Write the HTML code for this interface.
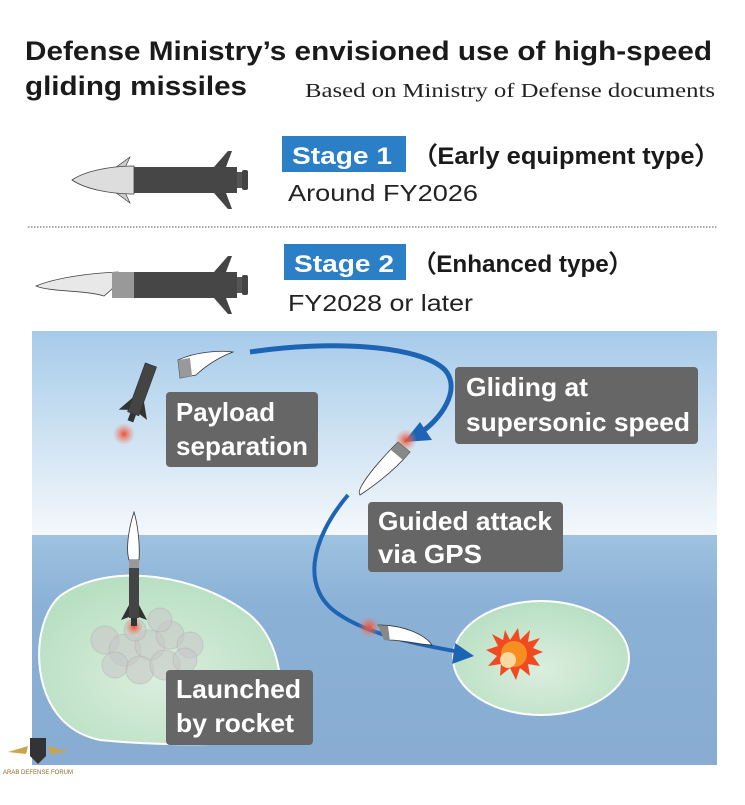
<!DOCTYPE html>
<html><head><meta charset="utf-8"><style>
body{margin:0;width:745px;height:800px;background:#fff;overflow:hidden;font-family:"Liberation Sans",Arial,sans-serif}
</style></head><body>
<svg width="745" height="800" viewBox="0 0 745 800" xmlns="http://www.w3.org/2000/svg">
<defs>
<linearGradient id="sky" x1="0" y1="0" x2="0" y2="1">
<stop offset="0" stop-color="#a6cbea"/><stop offset="1" stop-color="#f4f8fb"/></linearGradient>
<linearGradient id="sea" x1="0" y1="0" x2="0" y2="1">
<stop offset="0" stop-color="#9ec2e0"/><stop offset="0.3" stop-color="#8bb1d6"/><stop offset="1" stop-color="#88acd2"/></linearGradient>
<radialGradient id="isl" cx="0.5" cy="0.6" r="0.6"><stop offset="0" stop-color="#dbeede"/><stop offset="1" stop-color="#b8dfc2"/></radialGradient>
<radialGradient id="glow"><stop offset="0" stop-color="#f05030"/><stop offset="1" stop-color="#f08070" stop-opacity="0"/></radialGradient>
</defs>
<text x="25" y="60" font-size="27" font-weight="bold" fill="#1a1a1a" textLength="687" lengthAdjust="spacingAndGlyphs">Defense Ministry’s envisioned use of high-speed</text>
<text x="25" y="95" font-size="27" font-weight="bold" fill="#1a1a1a" textLength="222" lengthAdjust="spacingAndGlyphs">gliding missiles</text>
<text x="305" y="97" font-size="20" font-family="Liberation Serif,serif" fill="#222" textLength="410" lengthAdjust="spacingAndGlyphs">Based on Ministry of Defense documents</text>

<!-- stage1 missile -->
<g>
<polygon points="112,170 130,157 124,170" fill="#ccc" stroke="#333" stroke-width="0.6"/>
<polygon points="112,190 130,203 124,190" fill="#ccc" stroke="#333" stroke-width="0.6"/>
<path d="M134,166 C110,166 85,171 72,180 C85,189 110,194 134,194 Z" fill="#ddd" stroke="#444" stroke-width="0.8"/>
<rect x="134" y="167" width="103" height="26" fill="#464646"/>
<polygon points="214,167 228,151 232,151 226,167" fill="#444"/>
<polygon points="214,193 228,209 232,209 226,193" fill="#444"/>
<rect x="237" y="172" width="5" height="16" fill="#555"/><rect x="242" y="170" width="6" height="20" rx="2" fill="#444"/>
</g>
<text x="288" y="201" font-size="23" fill="#222" textLength="190" lengthAdjust="spacingAndGlyphs">Around FY2026</text>
<rect x="282" y="136" width="124" height="36" fill="#2a7fc6"/>
<text x="292" y="164" font-size="24" font-weight="bold" fill="#fff" textLength="100" lengthAdjust="spacingAndGlyphs">Stage 1</text>
<text x="412" y="164" font-size="24" font-weight="bold" fill="#1a1a1a" textLength="308" lengthAdjust="spacingAndGlyphs">（Early equipment type）</text>
<line x1="28" y1="227" x2="718" y2="227" stroke="#555" stroke-width="1" stroke-dasharray="1.5,1.5"/>

<!-- stage2 missile -->
<g>
<path d="M118,272 C90,273 55,278 36,286 C50,292 85,290 104,296 L112,289 Z" fill="#e8e8e8" stroke="#444" stroke-width="0.8"/>
<rect x="112" y="272" width="22" height="26" fill="#999"/>
<rect x="134" y="272" width="103" height="26" fill="#464646"/>
<polygon points="214,272 228,256 232,256 226,272" fill="#444"/>
<polygon points="214,298 228,314 232,314 226,298" fill="#444"/>
<rect x="237" y="277" width="5" height="16" fill="#555"/><rect x="242" y="275" width="6" height="20" rx="2" fill="#444"/>
</g>
<rect x="284" y="244" width="122" height="36" fill="#2a7fc6"/>
<text x="294" y="272" font-size="24" font-weight="bold" fill="#fff" textLength="100" lengthAdjust="spacingAndGlyphs">Stage 2</text>
<text x="412" y="272" font-size="24" font-weight="bold" fill="#1a1a1a" textLength="221" lengthAdjust="spacingAndGlyphs">（Enhanced type）</text>
<text x="288" y="311" font-size="23" fill="#222" textLength="185" lengthAdjust="spacingAndGlyphs">FY2028 or later</text>

<!-- panel -->
<rect x="32" y="331" width="685" height="204" fill="url(#sky)"/>
<rect x="32" y="535" width="685" height="230" fill="url(#sea)"/>
<path d="M60,596 C110,560 200,575 250,615 C285,645 285,700 275,735 C250,748 150,745 100,740 C50,730 35,680 40,640 C43,620 50,605 60,596 Z" fill="url(#isl)" stroke="#fff" stroke-width="2"/>
<ellipse cx="541" cy="658" rx="88" ry="57" fill="url(#isl)" stroke="#fff" stroke-width="2"/>

<!-- smoke -->
<g fill="#c8c8c8" fill-opacity="0.6" stroke="#aaa" stroke-opacity="0.4">
<circle cx="105" cy="640" r="14"/><circle cx="125" cy="650" r="16"/><circle cx="150" cy="645" r="15"/><circle cx="170" cy="635" r="14"/><circle cx="190" cy="645" r="13"/><circle cx="115" cy="665" r="13"/><circle cx="140" cy="670" r="14"/><circle cx="165" cy="665" r="15"/><circle cx="185" cy="660" r="12"/><circle cx="160" cy="620" r="12"/><circle cx="135" cy="630" r="11"/>
</g>
<!-- launching rocket -->
<circle cx="134" cy="627" r="9" fill="url(#glow)"/>
<path d="M134,512 C128,530 126,550 129,560 L139,560 C140,545 138,525 134,512 Z" fill="#fff" stroke="#333" stroke-width="0.8"/>
<rect x="129" y="560" width="10" height="8" fill="#999"/>
<rect x="129" y="568" width="10" height="50" fill="#444"/>
<polygon points="129,605 121,620 129,617" fill="#333"/><polygon points="139,605 147,620 139,617" fill="#333"/>
<rect x="131" y="618" width="6" height="8" fill="#333"/>

<!-- separated rocket -->
<circle cx="124" cy="434" r="11" fill="url(#glow)"/>
<g transform="rotate(20 140 395)">
<rect x="134" y="363" width="12" height="52" fill="#444" stroke="#222" stroke-width="0.5"/>
<polygon points="134,400 125,416 134,413" fill="#333"/><polygon points="146,400 155,416 146,413" fill="#333"/>
<rect x="137" y="415" width="6" height="8" fill="#333"/>
</g>
<!-- glide body top -->
<path d="M178,360 L180,378 L196,375 C210,362 225,355 233,352 C220,350 195,352 178,360 Z" fill="#fff" stroke="#333" stroke-width="0.8"/>
<path d="M178,360 L180,378 L192,376 L190,358 Z" fill="#999"/>

<!-- arrows -->
<path d="M250,352 C330,340 420,345 445,370 C462,390 440,420 420,433" fill="none" stroke="#1e64b4" stroke-width="5"/>
<polygon points="404,442 420,422 432,440" fill="#1e64b4"/>
<path d="M348,495 C310,540 300,590 340,615 C370,635 420,645 460,652" fill="none" stroke="#1e64b4" stroke-width="4"/>
<polygon points="474,656 455,643 452,664" fill="#1e64b4"/>

<!-- glider 2 -->
<circle cx="406" cy="440" r="11" fill="url(#glow)"/>
<path d="M398,442 L410,452 C395,470 375,485 360,495 C355,490 375,465 398,442 Z" fill="#fff" stroke="#333" stroke-width="0.8"/>
<path d="M398,442 L410,452 L403,460 L391,450 Z" fill="#888"/>
<!-- glider 3 -->
<circle cx="369" cy="627" r="11" fill="url(#glow)"/>
<path d="M378,625 L388,640 C405,640 420,645 432,645 C425,635 405,625 378,625 Z" fill="#fff" stroke="#333" stroke-width="0.8"/>
<path d="M378,625 L384,640 L390,641 L388,626 Z" fill="#888"/>

<!-- explosion -->
<polygon points="505,630 510,640 518,628 520,640 530,630 528,642 540,638 533,648 543,652 533,656 540,666 528,664 530,676 520,668 516,680 510,668 500,676 501,664 488,666 497,656 486,650 498,646 492,634 503,640" fill="#f04a20"/>
<circle cx="514" cy="654" r="13" fill="#f59020"/>
<circle cx="508" cy="660" r="8" fill="#fcd9a0"/>

<!-- labels -->
<g font-size="26" font-weight="bold" fill="#fff" lengthAdjust="spacingAndGlyphs">
<rect x="166" y="392" width="152" height="75" rx="4" fill="#666"/>
<text x="176" y="421" textLength="99" lengthAdjust="spacingAndGlyphs">Payload</text><text x="176" y="455" textLength="132" lengthAdjust="spacingAndGlyphs">separation</text>
<rect x="455" y="367" width="243" height="77" rx="4" fill="#666"/>
<text x="466" y="396" textLength="122" lengthAdjust="spacingAndGlyphs">Gliding at</text><text x="466" y="431" textLength="224" lengthAdjust="spacingAndGlyphs">supersonic speed</text>
<rect x="368" y="502" width="195" height="70" rx="4" fill="#666"/>
<text x="378" y="530" textLength="174" lengthAdjust="spacingAndGlyphs">Guided attack</text><text x="378" y="563" textLength="104" lengthAdjust="spacingAndGlyphs">via GPS</text>
<rect x="166" y="670" width="147" height="75" rx="4" fill="#666"/>
<text x="176" y="698" textLength="125" lengthAdjust="spacingAndGlyphs">Launched</text><text x="176" y="732" textLength="118" lengthAdjust="spacingAndGlyphs">by rocket</text>
</g>

<!-- watermark -->
<g transform="translate(38,738)">
<polygon points="-8,0 8,0 8,18 0,26 -8,18" fill="#333"/>
<path d="M-10,8 L-30,14 L-12,16 Z M10,8 L30,14 L12,16 Z" fill="#c9a44e"/>
<text x="0" y="36" font-size="6" text-anchor="middle" fill="#8a6a2a">ARAB DEFENSE FORUM</text>
</g>
</svg>
</body></html>
